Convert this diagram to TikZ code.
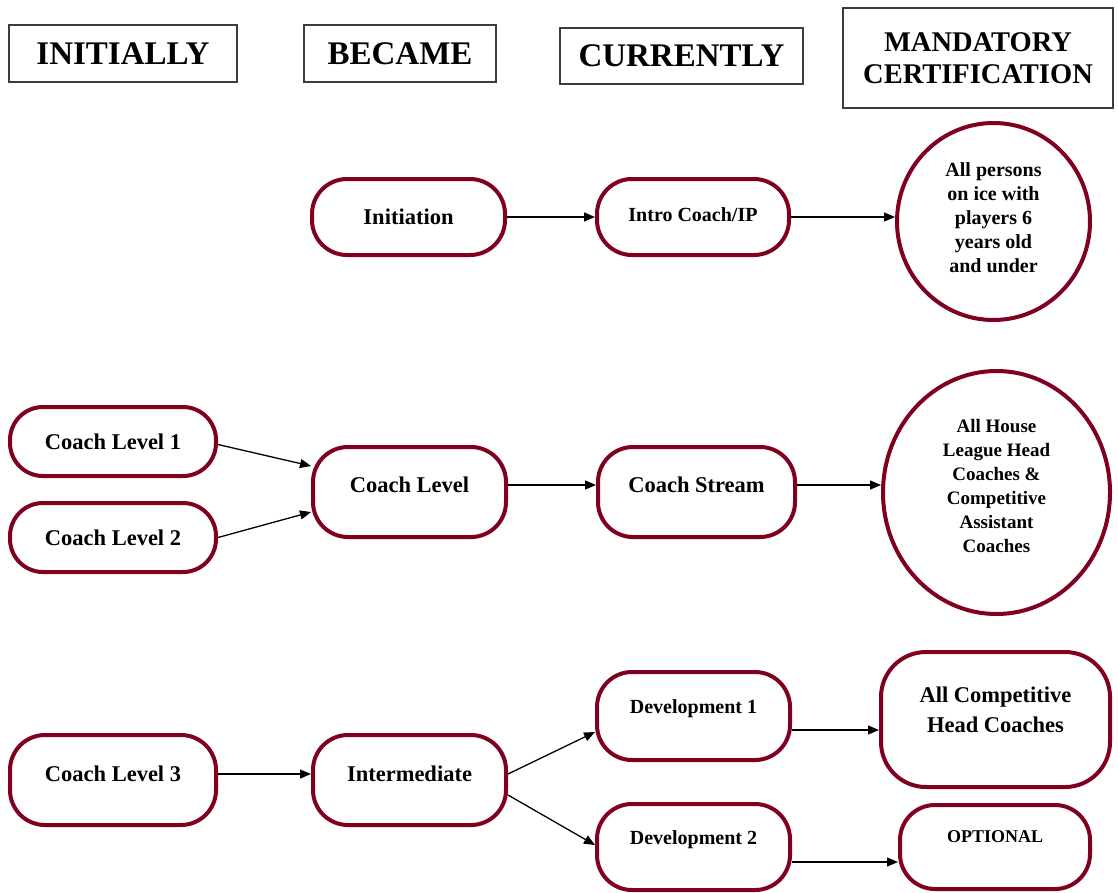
\documentclass[tikz,border=0pt]{standalone}
\usepackage{fontspec}
\setmainfont{Liberation Serif}
\usetikzlibrary{arrows.meta,shapes.geometric}
\definecolor{boxred}{RGB}{128,0,32}
\definecolor{hdrgray}{RGB}{60,60,60}

\begin{document}
\begin{tikzpicture}[x=1pt,y=-1pt,
                    hdr/.style={draw=hdrgray,line width=1.5pt,inner sep=0pt,align=center,
                                font=\bfseries\fontsize{33}{38}\selectfont},
                    stage/.style={draw=boxred,line width=4pt,rounded corners=35pt,inner sep=0pt,
                                  minimum width=193pt,minimum height=90pt,align=center,
                                  font=\bfseries\fontsize{22.5}{30}\selectfont},
                    small/.style={font=\bfseries\fontsize{20}{24}\selectfont},
                    lift/.style={text depth=#1},
                    goal/.style={ellipse,draw=boxred,line width=4pt,inner sep=0pt,align=center,
                                 font=\bfseries\fontsize{20}{24}\selectfont},
                    flow/.style={-{Triangle[length=11pt,width=9pt]},line width=1.3pt}]

\useasboundingbox (0,0) rectangle (1118,892);

\node[hdr,minimum width=228pt,minimum height=57pt] (hinit) at (123,53.5) {INITIALLY};
\node[hdr,minimum width=192pt,minimum height=57pt] (hbecame) at (400,53.5) {BECAME};
\node[hdr,minimum width=243pt,minimum height=56pt] (hcurr) at (681.5,56) {CURRENTLY};
\node[hdr,minimum width=270pt,minimum height=100pt,
      font=\bfseries\fontsize{28.5}{32}\selectfont] (hmand) at (978,58) {MANDATORY\\CERTIFICATION};

\node[stage,minimum height=76pt] (initiation) at (408.5,217) {Initiation};
\node[stage,small,lift=4pt,minimum width=192pt,minimum height=76pt] (intro) at (693,217) {Intro Coach/IP};
\node[goal,lift=8pt,minimum width=193pt,minimum height=197pt] (persons) at (993.5,221.5)
     {All persons\\on ice with\\players 6\\years old\\and under};

\node[stage,rounded corners=33pt,minimum width=206pt,minimum height=69pt] (cl1) at (113,441.5) {Coach Level 1};
\node[stage,rounded corners=33pt,minimum width=206pt,minimum height=69pt] (cl2) at (113,537.5) {Coach Level 2};
\node[stage,lift=14pt] (clevel) at (409.5,492) {Coach Level};
\node[stage,lift=14pt,minimum width=197pt] (cstream) at (696.5,492) {Coach Stream};
\node[goal,lift=14pt,minimum width=227pt,minimum height=243pt,
      font=\bfseries\fontsize{19}{24}\selectfont] (house) at (996.5,492.5)
     {All House\\League Head\\Coaches \&\\Competitive\\Assistant\\Coaches};

\node[stage,lift=12pt,minimum width=206pt] (cl3) at (113,780) {Coach Level 3};
\node[stage,lift=12pt] (inter) at (409.5,780) {Intermediate};
\node[stage,small,lift=18pt,minimum height=88pt] (dev1) at (693.5,716) {Development 1};
\node[stage,small,lift=18pt,minimum height=86pt] (dev2) at (693.5,847) {Development 2};
\node[stage,lift=19pt,minimum width=229pt,minimum height=135pt,rounded corners=45pt]
     (comp) at (995.5,719.5) {All Competitive\\Head Coaches};
\node[stage,lift=20pt,minimum width=190pt,minimum height=84pt,
      font=\bfseries\fontsize{18}{22}\selectfont] (opt) at (995,847) {OPTIONAL};

\draw[flow] (initiation) -- (intro);
\draw[flow] (intro.east) -- (intro.east -| persons.west);
\draw[flow] ([yshift=-3pt]cl1.east) -- ([yshift=26pt]clevel.west);
\draw[flow] (cl2.east) -- ([yshift=-20pt]clevel.west);
\draw[flow] ([yshift=7pt]clevel.east) -- ([yshift=7pt]cstream.west);
\draw[flow] ([yshift=7pt]cstream.east) -- ([yshift=7pt]cstream.east -| house.west);
\draw[flow] ([yshift=6pt]cl3.east) -- ([yshift=6pt]inter.west);
\draw[flow] ([yshift=6pt]inter.east) -- ([yshift=-16pt]dev1.west);
\draw[flow] ([yshift=-15pt]inter.east) -- ([yshift=2pt]dev2.west);
\draw[flow] ([yshift=-14pt]dev1.east) -- ([yshift=-14pt]dev1.east -| comp.west);
\draw[flow] ([yshift=-15pt]dev2.east) -- ([yshift=-15pt]dev2.east -| opt.west);

\end{tikzpicture}
\end{document}
